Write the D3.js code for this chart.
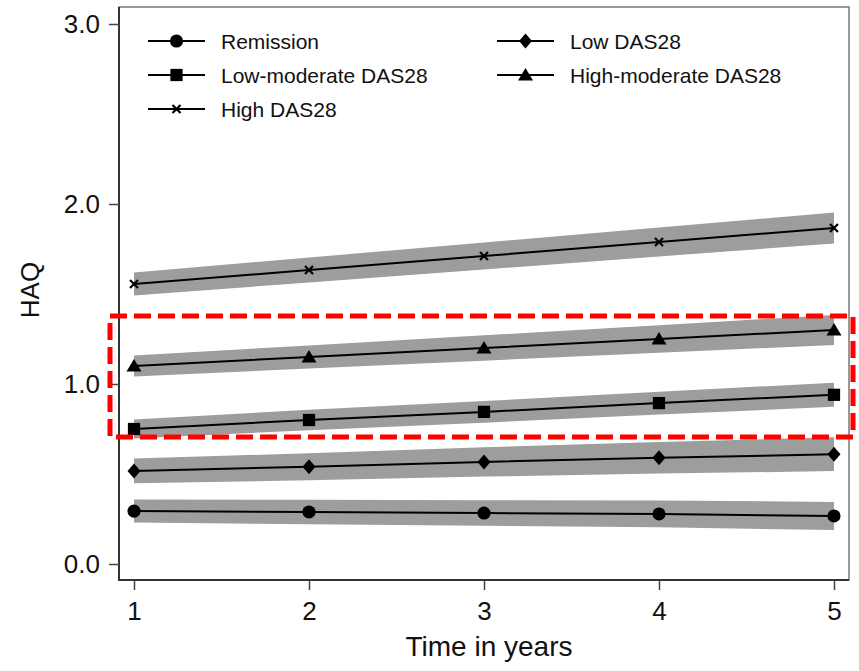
<!DOCTYPE html>
<head>
  <meta charset="utf-8">
  <script src="https://d3js.org/d3.v7.min.js"></script>
  <style>
    body { margin:0; background:#fff; }
    text { font-family: "Liberation Sans", Arial, Helvetica, sans-serif; fill:#111; }
  </style>
</head>
<body>
  <div class="chart"></div>
  <script>
    // data
    const years = [1, 2, 3, 4, 5];
    const groups = ["Remission", "Low DAS28", "Low-moderate DAS28", "High-moderate DAS28", "High DAS28"];
    const shapes = ["circle", "diamond", "square", "triangle", "cross"];
    const remission = [0.294, 0.289, 0.283, 0.278, 0.267];
    const lowDas = [0.517, 0.540, 0.567, 0.590, 0.610];
    const lowModDas = [0.750, 0.800, 0.845, 0.894, 0.940];
    const highModDas = [1.100, 1.150, 1.200, 1.250, 1.300];
    const highDas = [1.556, 1.633, 1.711, 1.789, 1.867];
    // half width of the grey confidence band at year 1 and at year 5
    const ciStart = [0.064, 0.069, 0.053, 0.058, 0.064];
    const ciEnd = [0.078, 0.094, 0.067, 0.083, 0.086];
    const yTicks = [0, 1, 2, 3];
    const yTickLabels = ["0.0", "1.0", "2.0", "3.0"];
    const xTicks = [1, 2, 3, 4, 5];

    const seriesValues = [remission, lowDas, lowModDas, highModDas, highDas];
    const W = 859, H = 671;

    const x = d3.scaleLinear().domain([1, 5]).range([134, 834]);
    const y = d3.scaleLinear().domain([0, 3]).range([564, 24]);
    const ci = d3.scaleLinear().domain([1, 5]);

    const frame = {left: 119, right: 849, top: 7, bottom: 580};

    const svg = d3.select(".chart").append("svg")
      .attr("width", W)
      .attr("height", H);

    // plot frame
    svg.append("rect")
      .attr("x", frame.left).attr("y", frame.top)
      .attr("width", frame.right - frame.left)
      .attr("height", frame.bottom - frame.top)
      .attr("fill", "none")
      .attr("stroke", "#777")
      .attr("stroke-width", 1.5);
    svg.append("path")
      .attr("d", "M" + frame.left + "," + frame.top + "V" + frame.bottom + "H" + frame.right)
      .attr("fill", "none")
      .attr("stroke", "#333")
      .attr("stroke-width", 2);

    // axes
    const yAxis = svg.append("g")
      .attr("transform", "translate(" + frame.left + ",0)")
      .call(d3.axisLeft(y).tickValues(yTicks).tickSize(10).tickPadding(9)
        .tickFormat((d, i) => yTickLabels[i]));
    const xAxis = svg.append("g")
      .attr("transform", "translate(0," + frame.bottom + ")")
      .call(d3.axisBottom(x).tickValues(xTicks).tickSize(10).tickPadding(12)
        .tickFormat(d3.format("d")));
    [yAxis, xAxis].forEach(a => {
      a.select(".domain").remove();
      a.selectAll(".tick line").attr("stroke", "#444").attr("stroke-width", 1.5);
      a.selectAll(".tick text").attr("font-size", 26).attr("fill", "#111")
        .attr("font-family", "Liberation Sans, Arial, sans-serif");
    });

    svg.append("text")
      .attr("transform", "translate(39,290) rotate(-90)")
      .attr("text-anchor", "middle")
      .attr("font-size", 26)
      .text("HAQ");
    svg.append("text")
      .attr("x", 489).attr("y", 656)
      .attr("text-anchor", "middle")
      .attr("font-size", 28)
      .text("Time in years");

    function marker(shape) {
      if (shape === "circle") return d3.symbol(d3.symbolCircle, 135)();
      if (shape === "square") return d3.symbol(d3.symbolSquare, 150)();
      if (shape === "triangle") return "M0,-7L7.5,5.5L-7.5,5.5Z";
      if (shape === "diamond") return "M0,-7.5L6.5,0L0,7.5L-6.5,0Z";
      return "M-4,-4L4,4M-4,4L4,-4";
    }

    function drawMarker(g, shape, px, py) {
      const m = g.append("path")
        .attr("transform", "translate(" + px + "," + py + ")")
        .attr("d", marker(shape));
      if (shape === "cross") m.attr("fill", "none").attr("stroke", "#000").attr("stroke-width", 2.2);
      else m.attr("fill", "#000");
    }

    const plot = svg.append("g");

    groups.forEach((name, k) => {
      const vals = seriesValues[k];
      ci.range([ciStart[k], ciEnd[k]]);
      const band = d3.area()
        .x((d, i) => x(years[i]))
        .y0((d, i) => y(d - ci(years[i])))
        .y1((d, i) => y(d + ci(years[i])));
      plot.append("path")
        .datum(vals)
        .attr("d", band)
        .attr("fill", "#9d9d9d");
    });

    groups.forEach((name, k) => {
      const vals = seriesValues[k];
      const line = d3.line().x((d, i) => x(years[i])).y(d => y(d));
      plot.append("path")
        .datum(vals)
        .attr("d", line)
        .attr("fill", "none")
        .attr("stroke", "#000")
        .attr("stroke-width", 2);
      vals.forEach((v, i) => drawMarker(plot, shapes[k], x(years[i]), y(v)));
    });

    // legend: two columns, order as in the original
    const legend = svg.append("g");
    groups.forEach((name, k) => {
      const col = k % 2, row = Math.floor(k / 2);
      const lx = col === 0 ? 148 : 497;
      const ly = 41 + row * 34;
      const item = legend.append("g").attr("transform", "translate(" + lx + "," + ly + ")");
      item.append("line")
        .attr("x1", 0).attr("x2", 57)
        .attr("stroke", "#000").attr("stroke-width", 2);
      drawMarker(item, shapes[k], 28.5, 0);
      item.append("text")
        .attr("x", 73).attr("y", 7.5)
        .attr("font-size", 21)
        .text(name);
    });

    // red dashed highlight box
    svg.append("rect")
      .attr("x", 110).attr("y", 316)
      .attr("width", 743).attr("height", 121)
      .attr("fill", "none")
      .attr("stroke", "#ff0000")
      .attr("stroke-width", 5)
      .attr("stroke-dasharray", "17,7");
  </script>
</body>
